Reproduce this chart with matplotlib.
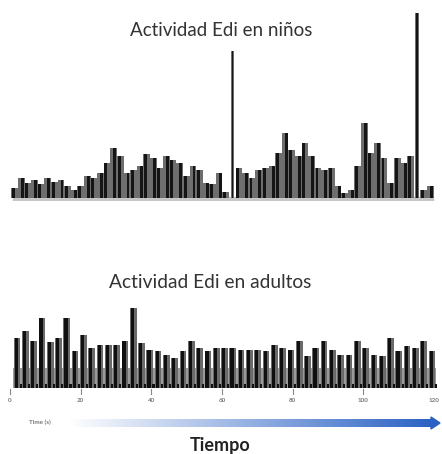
import numpy as np
import matplotlib.pyplot as plt
from matplotlib.colors import LinearSegmentedColormap
from matplotlib.patches import Polygon

# Edi signal amplitude, children (arbitrary units)
ninos = [10, 20, 15, 18, 14, 20, 16, 18, 12, 8, 12, 22, 20, 25, 35, 50, 42, 25,
         28, 32, 44, 40, 30, 42, 38, 35, 22, 32, 28, 15, 14, 25, 6, 147, 30, 25,
         20, 28, 30, 32, 45, 65, 48, 42, 55, 42, 30, 28, 30, 12, 5, 8, 32, 75,
         45, 55, 40, 15, 40, 35, 42, 185, 8, 12]

# Edi signal amplitude, adults (arbitrary units)
adultos = [50, 57, 47, 70, 46, 50, 70, 37, 53, 40, 43, 43, 43, 47, 80, 45, 38,
           37, 33, 30, 37, 47, 40, 37, 40, 40, 40, 38, 38, 38, 37, 43, 40, 38,
           47, 32, 40, 47, 38, 33, 33, 47, 40, 33, 32, 50, 37, 42, 40, 47, 37]

tick_vals = [0, 20, 40, 60, 80, 100, 120]
titulo_ninos = "Actividad Edi en niños"
titulo_adultos = "Actividad Edi en adultos"
eje_label = "Time (s)"
tiempo_label = "Tiempo"

W, H = 442, 454
fig = plt.figure(figsize=(W / 100, H / 100), dpi=100)
fig.patch.set_facecolor("white")
plt.rcParams["font.family"] = ["Lato", "DejaVu Sans"]


def px_axes(x0, y0, x1, y1):
    """Axes from pixel box (left, top, right, bottom)."""
    return fig.add_axes([x0 / W, 1 - y1 / H, (x1 - x0) / W, (y1 - y0) / H])


# ---- children panel ----
ax1 = px_axes(10, 10, 435, 201)
n1 = len(ninos)
x1 = np.arange(n1)
vals1 = np.array(ninos)
spike = vals1 > 100
w_outer = np.where(spike, 0.55, 1.0)
w_inner = np.where(spike, 0.25, 0.45)
offs = np.where(np.arange(n1) % 2 == 0, -0.18, 0.18)
ax1.bar(x1, vals1, width=w_outer, color="#6e6e6e", zorder=2)
ax1.bar(x1 + np.where(spike, 0, offs), vals1, width=w_inner, color="#151515", zorder=3)
ax1.axhspan(-3.5, 1, xmin=0.007, xmax=0.995, color="#c6c6c6", zorder=1)
ax1.set_xlim(-0.7, n1 - 0.3)
ax1.set_ylim(-3, 188)
ax1.axis("off")

fig.text(221 / W, 1 - 30 / H, titulo_ninos, ha="center", va="center",
         fontsize=13.5, color="#333333")

# ---- adults panel ----
ax2 = px_axes(12, 303, 437, 388)
n2 = len(adultos)
x2 = np.arange(n2)
ax2.bar(x2, [20] * n2, width=1.0, color="#9a9a9a", zorder=1)
ax2.bar(x2, adultos, width=0.8, color="#6a6a6a", zorder=2)
ax2.bar(x2 - 0.1, adultos, width=0.38, color="#101010", zorder=3)
ax2.bar(x2 + 0.45, [4] * n2, width=0.25, color="#111111", zorder=4)
ax2.set_xlim(-0.6, n2 - 0.4)
ax2.set_ylim(0, 85)
ax2.axis("off")

fig.text(210 / W, 1 - 283 / H, titulo_adultos, ha="center", va="center",
         fontsize=13.8, color="#333333")

# time axis with tick labels
axt = px_axes(10, 388, 434, 410)
axt.set_xlim(0, 120)
axt.set_ylim(0, 1)
for t in tick_vals:
    axt.plot([t, t], [0.95, 0.75], color="#888888", lw=0.8)
    axt.text(t, 0.45, str(t), ha="center", va="center", fontsize=4.5,
             color="#777777", fontweight="bold")
axt.axis("off")

fig.text(40 / W, 1 - 422 / H, eje_label, ha="center", va="center",
         fontsize=4.5, color="#777777", fontweight="bold")

# gradient arrow
axa = px_axes(68, 419, 432, 427)
grad = np.linspace(0, 1, 256).reshape(1, -1)
cmap = LinearSegmentedColormap.from_list("arrow", ["#ffffff", "#2a62c4"])
axa.imshow(grad, aspect="auto", cmap=cmap, extent=[0, 1, 0, 1])
axa.set_xlim(0, 1)
axa.set_ylim(0, 1)
axa.axis("off")
head = Polygon([[431 / W, 1 - 417 / H], [440 / W, 1 - 423 / H], [431 / W, 1 - 429 / H]],
               closed=True, transform=fig.transFigure, color="#2a62c4")
fig.patches.append(head)

fig.text(220 / W, 1 - 445 / H, tiempo_label, ha="center", va="center",
         fontsize=13, fontweight="bold", color="#222222")

fig.savefig("out.png", dpi=100)
